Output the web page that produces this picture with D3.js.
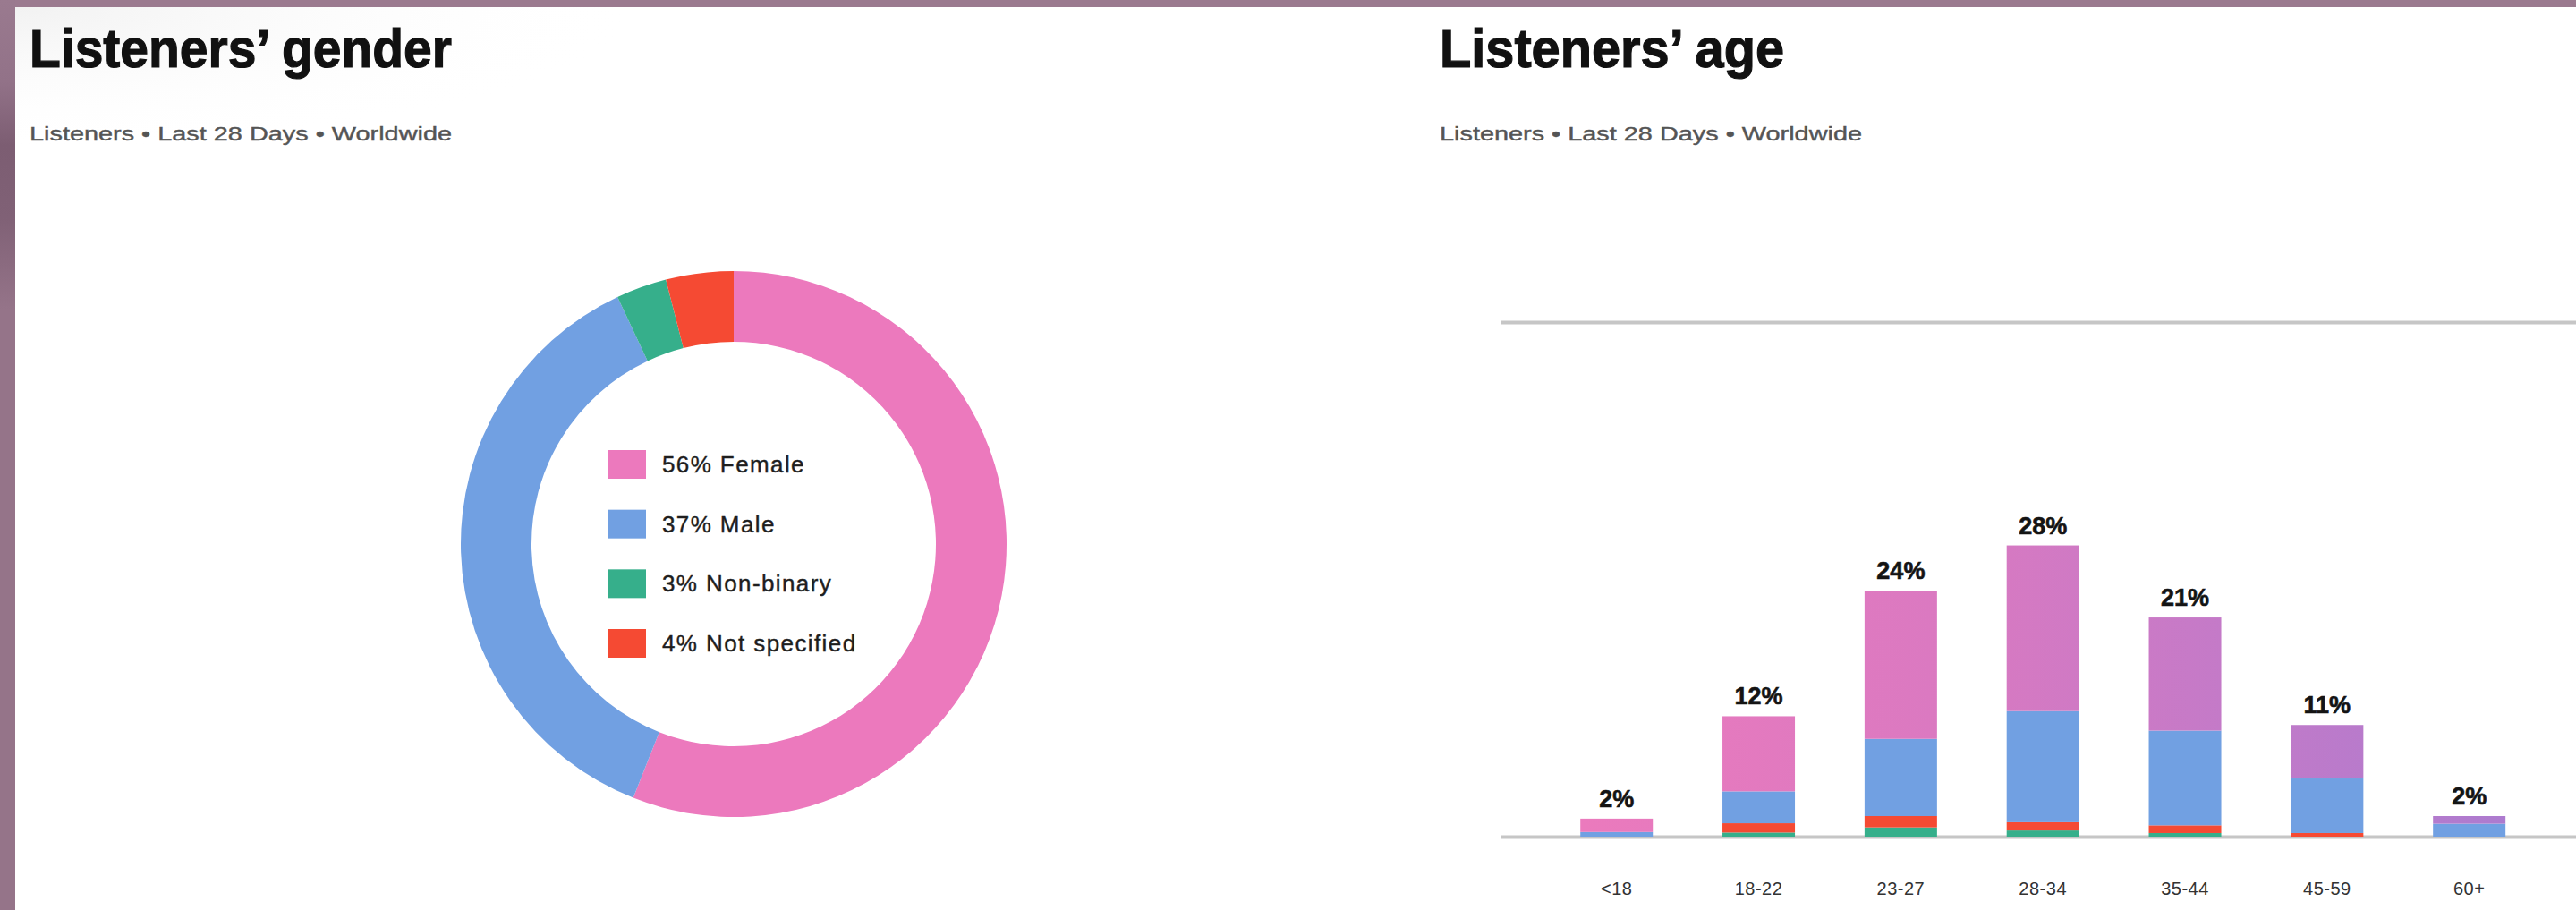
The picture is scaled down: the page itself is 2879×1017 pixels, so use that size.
<!DOCTYPE html>
<html><head><meta charset="utf-8">
<script src="https://cdn.jsdelivr.net/npm/d3@7"></script>
<style>html,body{margin:0;padding:0;background:#fff;overflow:hidden}svg{display:block}</style>
</head><body>
<script>
// ---- data ----
const genderLabels = ["Female", "Male", "Non-binary", "Not specified"];
const genderValues = [56, 37, 3, 4];
const ageGroups = ["<18", "18-22", "23-27", "28-34", "35-44", "45-59", "60+"];
const ageTotalLabels = [2, 12, 24, 28, 21, 11, 2];
const ageNonBinary = [0, 0.4, 0.9, 0.6, 0.35, 0, 0];
const ageNotSpecified = [0, 0.9, 1.1, 0.8, 0.75, 0.35, 0];
const ageMale = [0.45, 3.1, 7.5, 10.8, 9.2, 5.3, 1.25];
const ageFemale = [1.3, 7.3, 14.4, 16.1, 11.0, 5.2, 0.75];
const yGridValues = [0, 50];
const titleGender = "Listeners’ gender";
const titleAge = "Listeners’ age";
const subtitleText = "Listeners • Last 28 Days • Worldwide";

// ---- styles ----
const W = 2879, H = 1017;
const FONT = "'Liberation Sans', Arial, Helvetica, sans-serif";
const C = {female: "#ec79bd", male: "#71a0e2", nonbinary: "#36af8b", notspec: "#f54a33"};
const genderColors = [C.female, C.male, C.nonbinary, C.notspec];

const svg = d3.select("body").append("svg").attr("width", W).attr("height", H);
const defs = svg.append("defs");

// frame
const sideGrad = defs.append("linearGradient").attr("id", "sideGrad")
  .attr("x1", 0).attr("y1", 0).attr("x2", 0).attr("y2", 1);
[[0, "#9a7a8f"], [0.09, "#927288"], [0.16, "#7c5d72"], [0.24, "#806176"], [0.34, "#957489"], [1, "#957489"]]
  .forEach(([o, c]) => sideGrad.append("stop").attr("offset", o).attr("stop-color", c));
const shade = defs.append("radialGradient").attr("id", "shade")
  .attr("cx", 0).attr("cy", 0).attr("r", 1);
shade.append("stop").attr("offset", 0).attr("stop-color", "#e9e9e9");
shade.append("stop").attr("offset", 1).attr("stop-color", "#ffffff").attr("stop-opacity", 0);

svg.append("rect").attr("width", W).attr("height", H).attr("fill", "#ffffff");
svg.append("rect").attr("x", 17).attr("y", 8).attr("width", 700).attr("height", 160).attr("fill", "url(#shade)").attr("opacity", 0.6);
svg.append("rect").attr("x", 0).attr("y", 0).attr("width", W).attr("height", 8).attr("fill", "#9b7a8f");
svg.append("rect").attr("x", 0).attr("y", 0).attr("width", 17).attr("height", H).attr("fill", "url(#sideGrad)");

// titles
function header(x, title, tLen) {
  svg.append("text").attr("x", x).attr("y", 75)
    .attr("font-family", FONT).attr("font-weight", 700).attr("font-size", 62)
    .attr("fill", "#111").attr("stroke", "#111").attr("stroke-width", 1.2)
    .attr("textLength", tLen).attr("lengthAdjust", "spacingAndGlyphs")
    .text(title);
  svg.append("text").attr("x", x).attr("y", 157)
    .attr("font-family", FONT).attr("font-size", 22).attr("font-weight", 400)
    .attr("fill", "#555").attr("stroke", "#555").attr("stroke-width", 0.4)
    .attr("textLength", 472).attr("lengthAdjust", "spacingAndGlyphs")
    .text(subtitleText);
}
header(33, titleGender, 472);
header(1609, titleAge, 385);

// ---- donut ----
const cx = 820, cy = 608, rOuter = 305, rInner = 226;
const pie = d3.pie().sort(null).value(d => d.value);
const arc = d3.arc().innerRadius(rInner).outerRadius(rOuter);
const genderData = genderLabels.map((l, i) => ({label: l, value: genderValues[i], color: genderColors[i]}));
const donut = svg.append("g").attr("transform", `translate(${cx},${cy})`);
donut.selectAll("path").data(pie(genderData)).join("path")
  .attr("d", arc).attr("fill", d => d.data.color);

const legendY = d3.scalePoint().domain(genderLabels).range([519, 719]);
const leg = svg.append("g");
leg.selectAll("rect").data(genderData).join("rect")
  .attr("x", 679).attr("y", d => legendY(d.label) - 16)
  .attr("width", 43).attr("height", 32).attr("fill", d => d.color);
leg.selectAll("text").data(genderData).join("text")
  .attr("x", 740).attr("y", d => legendY(d.label) + 9)
  .attr("font-family", FONT).attr("font-size", 26).attr("letter-spacing", 1.4)
  .attr("fill", "#1e1e1e").attr("stroke", "#1e1e1e").attr("stroke-width", 0.4)
  .text(d => `${d.value}% ${d.label}`);

// ---- stacked bars ----
const rows = ageGroups.map((g, i) => ({
  group: g, label: ageTotalLabels[i],
  nonbinary: ageNonBinary[i], notspec: ageNotSpecified[i], male: ageMale[i], female: ageFemale[i]
}));
const keys = ["nonbinary", "notspec", "male", "female"];
const stack = d3.stack().keys(keys)(rows);

const x = d3.scaleBand().domain(ageGroups).range([1727.3, 2839.1]).paddingInner(0.49).paddingOuter(0.245);
const y = d3.scaleLinear().domain([0, 50]).range([935, 360]);

const femGrad = defs.append("linearGradient").attr("id", "femGrad")
  .attr("gradientUnits", "userSpaceOnUse")
  .attr("x1", x(ageGroups[0])).attr("x2", x(ageGroups[6]) + x.bandwidth()).attr("y1", 0).attr("y2", 0);
femGrad.append("stop").attr("offset", 0).attr("stop-color", "#eb7abd");
femGrad.append("stop").attr("offset", 0.4).attr("stop-color", "#da79c1");
femGrad.append("stop").attr("offset", 1).attr("stop-color", "#ad7bcf");
const fills = {nonbinary: C.nonbinary, notspec: C.notspec, male: C.male, female: "url(#femGrad)"};

// grid lines (0 and 50)
const grid = svg.append("g").attr("transform", "translate(1678,0)")
  .call(d3.axisLeft(y).tickValues(yGridValues).tickSize(-(W - 1678)).tickFormat(""));
grid.select(".domain").remove();
grid.selectAll(".tick line").attr("stroke", "#c6c6c6").attr("stroke-width", 4);

const barsG = svg.append("g");
barsG.selectAll("g").data(stack).join("g").attr("fill", d => fills[d.key])
  .selectAll("rect").data(d => d).join("rect")
  .attr("x", d => x(d.data.group)).attr("width", x.bandwidth())
  .attr("y", d => y(d[1])).attr("height", d => y(d[0]) - y(d[1]));

// totals
const totals = rows.map(r => keys.reduce((s, k) => s + r[k], 0));
svg.append("g").selectAll("text").data(rows).join("text")
  .attr("x", d => x(d.group) + x.bandwidth() / 2)
  .attr("y", (d, i) => y(totals[i]) - 13)
  .attr("text-anchor", "middle")
  .attr("font-family", FONT).attr("font-weight", 700).attr("font-size", 27)
  .attr("fill", "#141414").attr("stroke", "#141414").attr("stroke-width", 0.6)
  .text(d => `${d.label}%`);

// x axis labels
const xa = svg.append("g").attr("transform", "translate(0,935)")
  .call(d3.axisBottom(x).tickSize(0).tickPadding(51));
xa.select(".domain").remove();
xa.selectAll("text").attr("font-family", FONT).attr("font-size", 20).attr("fill", "#333")
  .attr("letter-spacing", 0.5);
</script>
</body></html>
